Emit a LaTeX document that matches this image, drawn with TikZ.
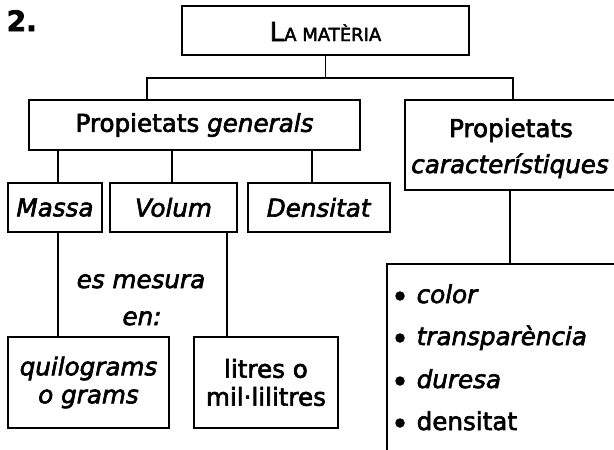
\documentclass[tikz,border=0pt]{standalone}
\usepackage{fontspec}
\setmainfont{DejaVu Sans}[FakeBold=2.5,ItalicFont={DejaVu Sans Oblique},BoldFont={DejaVu Sans Bold},BoldItalicFont={DejaVu Sans Bold Oblique}]
\begin{document}
\begin{tikzpicture}[x=1pt,y=-1pt,
  line width=1.4pt,
  txt/.style={font=\fontsize{24.6}{28}\selectfont, inner sep=0pt},
  box/.style={draw, txt, align=center, inner sep=0pt},
  bul/.style={circle, fill, inner sep=0pt, minimum size=9.5pt}]
\useasboundingbox (0,0) rectangle (614,450);
\clip (0,0) rectangle (614,450);
% title number
\node[font=\bfseries\fontsize{28}{30}\selectfont, inner sep=0pt, anchor=base west] (num) at (6,31) {2.};
% boxes
\node[box, minimum width=287pt, minimum height=49pt] (top) at (325.5,30.5) {};
\node[txt, anchor=base] (topT) at (325.5,41)
  {{\fontsize{26}{28}\selectfont L}{\fontsize{18}{24}\selectfont A MATÈRIA}};
\node[box, minimum width=331pt, minimum height=50pt] (gen) at (194.5,125)
  {Propietats \textit{generals}};
\node[box, minimum width=210pt, minimum height=90pt] (car) at (510,145) {};
\node[txt, anchor=base] (carT1) at (511,137) {Propietats};
\node[txt, anchor=base] (carT2) at (510,173) {\textit{característiques}};
\node[box, minimum width=94pt, minimum height=49pt] (massa) at (55,207.5) {\textit{Massa}};
\node[box, minimum width=127pt, minimum height=49pt] (volum) at (173.5,207.5) {\textit{Volum}};
\node[box, minimum width=142pt, minimum height=49pt] (dens) at (319,207.5) {\textit{Densitat}};
\node[box, minimum width=161pt, minimum height=91pt] (quilo) at (88.5,382.5)
  {\textit{quilograms}\\\textit{o grams}};
\node[box, minimum width=144pt, minimum height=91pt] (litres) at (266,382.5)
  {litres o\\mil·lilitres};
\node[draw, minimum width=250pt, minimum height=210pt, inner sep=0pt] (list) at (512,369) {};
% text between
\node[txt, anchor=base] (mes1) at (141,288) {\textit{es mesura}};
\node[txt, anchor=base] (mes2) at (142,325) {\textit{en:}};
% list items
\node[bul] (b1) at (400,296) {};
\node[txt, anchor=base west] (i1) at (416,303) {\textit{color}};
\node[bul] (b2) at (400,338) {};
\node[txt, anchor=base west] (i2) at (416,345) {\textit{transparència}};
\node[bul] (b3) at (400,381) {};
\node[txt, anchor=base west] (i3) at (416,388) {\textit{duresa}};
\node[bul] (b4) at (400,423) {};
\node[txt, anchor=base west] (i4) at (416,430) {densitat};
% connectors
\coordinate (busL) at (147,78);
\coordinate (busR) at (513,78);
\draw (top.south) -- (top.south |- busL);
\draw (gen.north -| busL) -- (busL) -- (busR) -- (busR |- car.north);
\draw ([xshift=3pt]massa.north) -- ([xshift=3pt]massa.north |- gen.south);
\draw ([xshift=-1.5pt]volum.north) -- ([xshift=-1.5pt]volum.north |- gen.south);
\draw ([xshift=-7pt]dens.north) -- ([xshift=-7pt]dens.north |- gen.south);
\draw ([xshift=3pt]massa.south) -- ([xshift=3pt]massa.south |- quilo.north);
\draw ([xshift=53.5pt]volum.south) -- ([xshift=53.5pt]volum.south |- litres.north);
\draw (car.south) -- (car.south |- list.north);
\end{tikzpicture}
\end{document}
